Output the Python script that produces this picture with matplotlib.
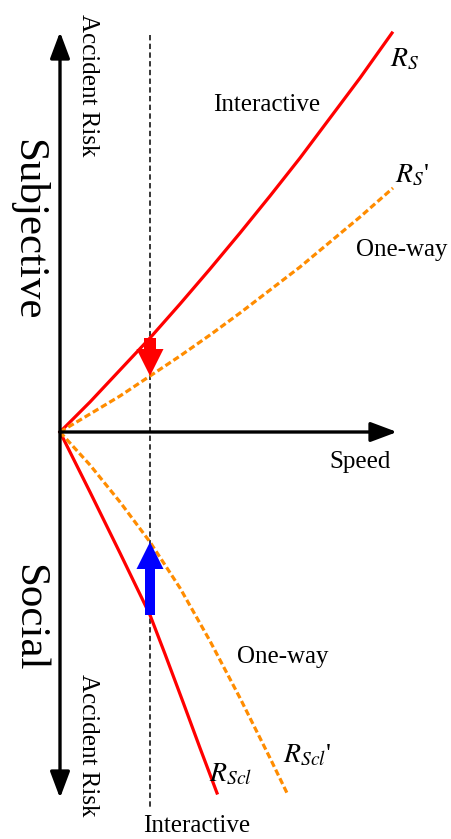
import numpy as np
import matplotlib.pyplot as plt
from matplotlib.patches import FancyArrow

plt.rcParams['font.family'] = ['Liberation Serif', 'DejaVu Serif']
plt.rcParams['mathtext.fontset'] = 'stix'

# Datos (velocidad vs riesgo)
vel_sub = [0, 30, 60, 90, 120, 150, 180, 210, 240, 270, 300, 332]
r_s = [0, 30, 62, 94, 128, 163, 199, 236, 274, 314, 354, 399]     # interactivo
vel_sub2 = [0, 30, 60, 90, 120, 150, 180, 210, 240, 270, 300, 333]
r_s2 = [0, 18, 36, 56, 76, 97, 119, 142, 165, 190, 215, 244]      # one-way

vel_soc = [0, 30, 60, 90, 105, 123, 140, 157]
r_scl = [0, -60, -121, -183, -222, -270, -316, -361]               # interactivo
vel_soc2 = [0, 30, 60, 90, 120, 150, 180, 210, 227]
r_scl2 = [0, -33, -70, -110, -156, -209, -266, -326, -361]         # one-way

v0 = 90  # velocidad de referencia (linea discontinua)

fig = plt.figure(figsize=(4.52, 8.39), dpi=100)
ax = fig.add_axes([0, 0, 1, 1])
ax.set_xlim(-60, 392)
ax.set_ylim(-407, 432)
ax.axis('off')

# linea vertical discontinua
ax.plot([v0, v0], [397, -378], color='black', lw=1.1, dashes=(3.5, 2.2), zorder=1)

# ejes con flechas
flecha = dict(arrowstyle='-|>,head_length=0.8,head_width=0.3', lw=2.4,
              color='black', mutation_scale=20, shrinkA=0, shrinkB=0)
ax.annotate('', xy=(337, 0), xytext=(0, 0), arrowprops=flecha, zorder=3)
ax.annotate('', xy=(0, 400), xytext=(0, 0), arrowprops=flecha, zorder=3)
ax.annotate('', xy=(0, -366), xytext=(0, 0), arrowprops=flecha, zorder=3)

# curvas
ax.plot(vel_sub, r_s, color='red', lw=2.3, zorder=2)
ax.plot(vel_sub2, r_s2, color='darkorange', lw=2.3, dashes=(2, 1), zorder=2)
ax.plot(vel_soc, r_scl, color='red', lw=2.3, zorder=2)
ax.plot(vel_soc2, r_scl2, color='darkorange', lw=2.3, dashes=(2, 1), zorder=2)

# flechas de cambio
y_top = np.interp(v0, vel_sub, r_s)
y_bot = np.interp(v0, vel_sub2, r_s2)
ax.add_patch(FancyArrow(v0, y_top, 0, y_bot - y_top, width=12, head_width=27,
                        head_length=27, length_includes_head=True,
                        color='red', lw=0, zorder=4))
y_a = np.interp(v0, vel_soc, r_scl)
y_b = np.interp(v0, vel_soc2, r_scl2)
ax.add_patch(FancyArrow(v0, y_a, 0, y_b - y_a, width=10, head_width=27,
                        head_length=27, length_includes_head=True,
                        color='blue', lw=0, zorder=4))

# textos
fs = 18
ax.text(-32, 202, 'Subjective', fontsize=31, rotation=-90, ha='center', va='center')
ax.text(-32, -186, 'Social', fontsize=31, rotation=-90, ha='center', va='center')
ax.text(28, 347, 'Accident Risk', fontsize=fs, rotation=-90, ha='center', va='center')
ax.text(28, -313, 'Accident Risk', fontsize=fs, rotation=-90, ha='center', va='center')
ax.text(207, 327, 'Interactive', fontsize=fs, ha='center', va='center')
ax.text(342, 182, 'One-way', fontsize=fs, ha='center', va='center')
ax.text(300, -30, 'Speed', fontsize=fs, ha='center', va='center')
ax.text(223, -225, 'One-way', fontsize=fs, ha='center', va='center')
ax.text(137, -394, 'Interactive', fontsize=fs, ha='center', va='center')

ax.text(345, 372, r'$R_S$', fontsize=20, ha='center', va='center')
ax.text(352, 256, r"$R_S$'", fontsize=20, ha='center', va='center')
ax.text(171, -343, r'$R_{Scl}$', fontsize=20, ha='center', va='center')
ax.text(247, -324, r"$R_{Scl}$'", fontsize=20, ha='center', va='center')

fig.savefig('out.png', dpi=100)
